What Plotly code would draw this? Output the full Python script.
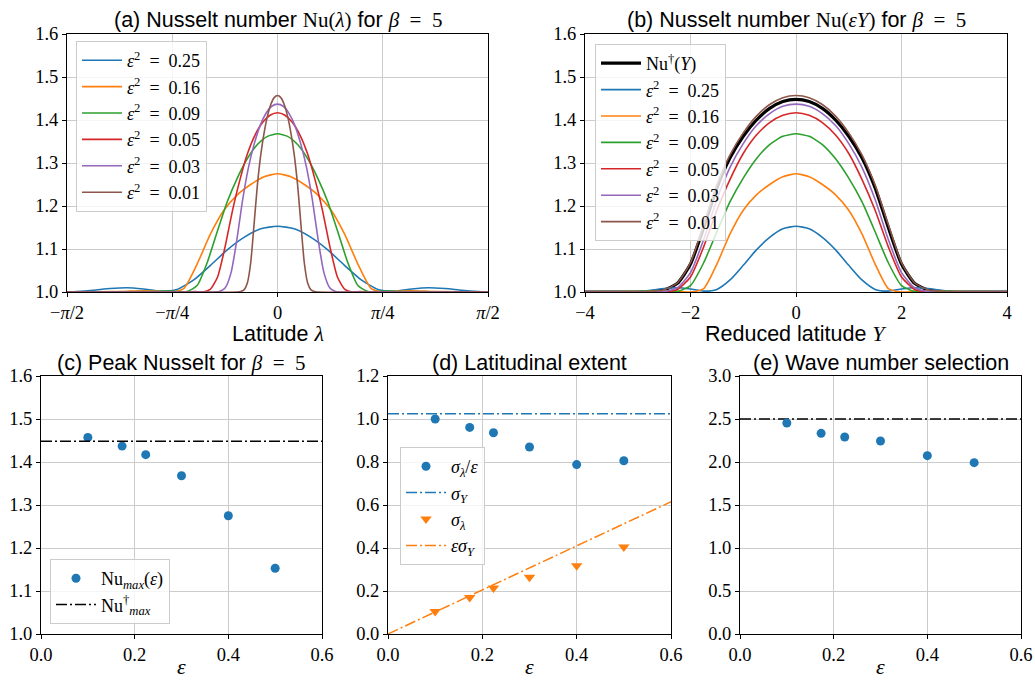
import numpy as np
import plotly.graph_objects as go

# ---------------------------------------------------------------- data
# Aspect parameter values (epsilon squared) of the computed cases
EPS2 = [0.25, 0.16, 0.09, 0.05, 0.03, 0.01]
COLORS = ["#1f77b4", "#ff7f0e", "#2ca02c", "#d62728", "#9467bd", "#8c564b"]

# Half-profiles of the Nusselt number on a reduced-latitude grid Y >= 0
Y_HALF = [0.0, 0.25, 0.5, 0.75, 1.0, 1.25, 1.5, 1.75, 2.0, 2.25, 2.5, 2.75, 3.0]
NU_EPS_025 = [1.153, 1.147, 1.127, 1.098, 1.062, 1.028, 1.006, 1.002, 1.007, 1.010, 1.008, 1.004, 1.001]
NU_EPS_016 = [1.275, 1.268, 1.250, 1.226, 1.190, 1.135, 1.065, 1.008, 1.000, 1.002, 1.003, 1.002, 1.001]
NU_EPS_009 = [1.368, 1.362, 1.343, 1.310, 1.265, 1.210, 1.140, 1.068, 1.015, 1.001, 1.001, 1.002, 1.001]
NU_EPS_005 = [1.417, 1.411, 1.394, 1.365, 1.322, 1.262, 1.190, 1.105, 1.035, 1.006, 1.000, 1.001, 1.000]
NU_EPS_003 = [1.437, 1.432, 1.415, 1.387, 1.345, 1.290, 1.215, 1.122, 1.045, 1.010, 1.001, 1.000, 1.000]
NU_EPS_001 = [1.457, 1.452, 1.436, 1.409, 1.370, 1.319, 1.249, 1.157, 1.068, 1.021, 1.005, 1.001, 1.000]
NU_PROFILES = [NU_EPS_025, NU_EPS_016, NU_EPS_009, NU_EPS_005, NU_EPS_003, NU_EPS_001]

# Asymptotic profile Nu^dagger(Y)
Y_DAGGER = [0.0, 0.25, 0.5, 0.75, 1.0, 1.25, 1.5, 1.75, 2.0, 2.25, 2.5, 2.75, 3.0, 5.0]
NU_DAGGER = [1.448, 1.443, 1.427, 1.400, 1.362, 1.312, 1.242, 1.150, 1.065, 1.020, 1.005, 1.001, 1.000, 1.000]
NU_DAGGER_MAX = 1.448

# Peak values, widths and selected wave numbers per case (same order as EPS2)
NU_MAX = [1.153, 1.275, 1.368, 1.417, 1.437, 1.457]
SIGMA_LAMBDA_OVER_EPS = [0.806, 0.788, 0.870, 0.936, 0.961, 1.000]
SIGMA_LAMBDA = [0.405, 0.318, 0.264, 0.214, 0.170, 0.105]
SIGMA_Y = 1.025
WAVE_NUMBER = [1.992, 2.074, 2.244, 2.291, 2.333, 2.453]
WAVE_NUMBER_REF = 2.5

EPS = [float(np.sqrt(e)) for e in EPS2]
EPS_LINE = [0.0, 0.6]

# ---------------------------------------------------------------- style
W, H = 1035, 681
SERIF = "Liberation Serif"
SANS = "Liberation Sans"
GRID = "#cccccc"
DASHDOT = "11px,3px,2px,3px"
EQ = "\u2002=\u2002"


def px_x(p):
    return p / W


def px_y(p):
    return 1 - p / H


def full_profile(y_half, nu_half, y_end):
    """Mirror a half profile about Y=0 and close it at the pole."""
    y = list(y_half)
    nu = list(nu_half)
    if y_end > y[-1]:
        y.append(y_end)
        nu.append(1.0)
    ys = [-v for v in y[::-1]] + y[1:]
    ns = nu[::-1] + nu[1:]
    return np.array(ys), np.array(ns)


fig = go.Figure()

# ---------------------------------------------------------------- (b) asymptotic curve first
yd, nd = full_profile(Y_DAGGER, NU_DAGGER, 0)
fig.add_trace(go.Scatter(
    x=yd, y=nd, mode="lines", line=dict(color="black", width=3.2, shape="spline", smoothing=0.6),
    name="Nu<sup>†</sup>(<i>Y</i>)", xaxis="x2", yaxis="y2", legend="legend2"))

# ---------------------------------------------------------------- (a) and (b) profiles
for e2, eps, prof, col in zip(EPS2, EPS, NU_PROFILES, COLORS):
    y_pole = (np.pi / 2) / eps
    ys, ns = full_profile(Y_HALF, prof, y_pole)
    label = f"<i>ε</i><sup>2</sup>{EQ}{e2:.2f}"
    fig.add_trace(go.Scatter(
        x=ys * eps, y=ns, mode="lines", line=dict(color=col, width=1.6, shape="spline", smoothing=0.6),
        name=label, xaxis="x", yaxis="y", legend="legend"))
    fig.add_trace(go.Scatter(
        x=ys, y=ns, mode="lines", line=dict(color=col, width=1.6, shape="spline", smoothing=0.6),
        name=label, xaxis="x2", yaxis="y2", legend="legend2"))

# ---------------------------------------------------------------- (c) peak Nusselt
fig.add_trace(go.Scatter(
    x=EPS, y=NU_MAX, mode="markers", marker=dict(color=COLORS[0], size=9),
    name="Nu<sub><i>max</i></sub>(<i>ε</i>)", xaxis="x3", yaxis="y3", legend="legend3"))
fig.add_trace(go.Scatter(
    x=EPS_LINE, y=[NU_DAGGER_MAX] * 2, mode="lines", line=dict(color="black", width=1.5, dash=DASHDOT),
    name="Nu<sup>†</sup><sub><i>max</i></sub>", xaxis="x3", yaxis="y3", legend="legend3"))

# ---------------------------------------------------------------- (d) latitudinal extent
fig.add_trace(go.Scatter(
    x=EPS, y=SIGMA_LAMBDA_OVER_EPS, mode="markers", marker=dict(color=COLORS[0], size=9),
    name="<i>σ</i><sub><i>λ</i></sub>/<i>ε</i>", xaxis="x4", yaxis="y4", legend="legend4"))
fig.add_trace(go.Scatter(
    x=EPS_LINE, y=[SIGMA_Y] * 2, mode="lines", line=dict(color=COLORS[0], width=1.5, dash=DASHDOT),
    name="<i>σ</i><sub><i>Y</i></sub>", xaxis="x4", yaxis="y4", legend="legend4"))
fig.add_trace(go.Scatter(
    x=EPS, y=SIGMA_LAMBDA, mode="markers",
    marker=dict(color=COLORS[1], size=10, symbol="triangle-down"),
    name="<i>σ</i><sub><i>λ</i></sub>", xaxis="x4", yaxis="y4", legend="legend4"))
fig.add_trace(go.Scatter(
    x=EPS_LINE, y=[e * SIGMA_Y for e in EPS_LINE], mode="lines",
    line=dict(color=COLORS[1], width=1.5, dash=DASHDOT),
    name="<i>εσ</i><sub><i>Y</i></sub>", xaxis="x4", yaxis="y4", legend="legend4"))

# ---------------------------------------------------------------- (e) wave number
fig.add_trace(go.Scatter(
    x=EPS_LINE, y=[WAVE_NUMBER_REF] * 2, mode="lines", line=dict(color="black", width=1.5, dash=DASHDOT),
    showlegend=False, xaxis="x5", yaxis="y5"))
fig.add_trace(go.Scatter(
    x=EPS, y=WAVE_NUMBER, mode="markers", marker=dict(color=COLORS[0], size=9),
    showlegend=False, xaxis="x5", yaxis="y5"))

# ---------------------------------------------------------------- axes
tickfont = dict(family=SERIF, size=18.5, color="black")


def axis(domain, rng, **kw):
    d = dict(domain=domain, range=rng, showline=True, mirror=True, linecolor="black", linewidth=1,
             ticks="outside", ticklen=4, tickwidth=1, tickcolor="black", showgrid=True,
             gridcolor=GRID, gridwidth=1, zeroline=False, tickfont=tickfont, fixedrange=True,
             automargin=False)
    d.update(kw)
    return d


top_y = [px_y(292), px_y(34)]
bot_y = [px_y(634), px_y(376)]

pi = np.pi
fig.update_layout(
    xaxis=axis([px_x(67), px_x(488)], [-pi / 2, pi / 2], anchor="y",
               tickvals=[-pi / 2, -pi / 4, 0, pi / 4, pi / 2],
               ticktext=["−<i>π</i>/2", "−<i>π</i>/4", "0", "<i>π</i>/4", "<i>π</i>/2"]),
    yaxis=axis(top_y, [1.0, 1.6], anchor="x", dtick=0.1, tickformat=".1f"),
    xaxis2=axis([px_x(585), px_x(1007)], [-4, 4], anchor="y2", dtick=2),
    yaxis2=axis(top_y, [1.0, 1.6], anchor="x2", dtick=0.1, tickformat=".1f"),
    xaxis3=axis([px_x(41), px_x(322)], [0, 0.6], anchor="y3", dtick=0.2, tickformat=".1f"),
    yaxis3=axis(bot_y, [1.0, 1.6], anchor="x3", dtick=0.1, tickformat=".1f"),
    xaxis4=axis([px_x(388), px_x(671)], [0, 0.6], anchor="y4", dtick=0.2, tickformat=".1f"),
    yaxis4=axis(bot_y, [0.0, 1.2], anchor="x4", dtick=0.2, tickformat=".1f"),
    xaxis5=axis([px_x(740), px_x(1021)], [0, 0.6], anchor="y5", dtick=0.2, tickformat=".1f"),
    yaxis5=axis(bot_y, [0.0, 3.0], anchor="x5", dtick=0.5, tickformat=".1f"),
)

# ---------------------------------------------------------------- legends
def legend(xp, yp):
    return dict(x=px_x(xp), y=px_y(yp), xanchor="left", yanchor="top",
                bgcolor="rgba(255,255,255,0.8)", bordercolor="#cccccc", borderwidth=1,
                font=dict(family=SERIF, size=18, color="black"), tracegroupgap=0, itemwidth=40)


fig.update_layout(
    legend=legend(76, 41),
    legend2=legend(595, 44),
    legend3=legend(50, 559),
    legend4=legend(400, 447),
)

# ---------------------------------------------------------------- titles and axis labels
def serif(t, size=21):
    return f"<span style='font-family:{SERIF};font-size:{size}px'>{t}</span>"


BETA = serif(f"<i>β</i>{EQ}5")
annots = [
    (px_x(277.5), px_y(20), "middle", "(a) Nusselt number " + serif("Nu(<i>λ</i>)") + " for " + BETA),
    (px_x(796), px_y(20), "middle", "(b) Nusselt number " + serif("Nu(<i>εY</i>)") + " for " + BETA),
    (px_x(181.5), px_y(363), "middle", "(c) Peak Nusselt for " + BETA),
    (px_x(529.5), px_y(363), "middle", "(d) Latitudinal extent"),
    (px_x(880.5), px_y(363), "middle", "(e) Wave number selection"),
    (px_x(277.5), px_y(333), "middle", "Latitude " + serif("<i>λ</i>", 22)),
    (px_x(796), px_y(333), "middle", "Reduced latitude " + serif("<i>Y</i>", 22)),
    (px_x(181.5), 0, "bottom", serif("<i>ε</i>", 22)),
    (px_x(529.5), 0, "bottom", serif("<i>ε</i>", 22)),
    (px_x(880.5), 0, "bottom", serif("<i>ε</i>", 22)),
]
fig.update_layout(annotations=[
    dict(x=x, y=y, xref="paper", yref="paper", text=t, showarrow=False, xanchor="center", yanchor=ya,
         font=dict(family=SANS, size=21.5, color="black"))
    for x, y, ya, t in annots
])

fig.update_layout(width=W, height=H, margin=dict(l=0, r=0, t=0, b=0),
                  paper_bgcolor="white", plot_bgcolor="white", showlegend=True)

fig.write_html("out.html")
